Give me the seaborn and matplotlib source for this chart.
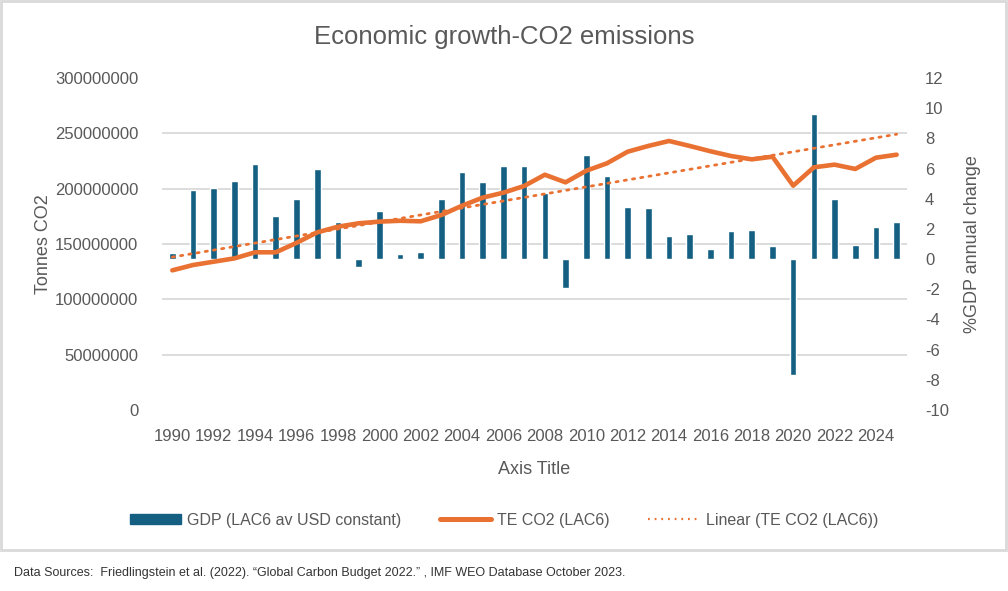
import numpy as np
import pandas as pd
import matplotlib
matplotlib.use("Agg")
import matplotlib.pyplot as plt
from matplotlib.patches import Rectangle
from matplotlib.lines import Line2D
import seaborn as sns

years = list(range(1990, 2026))
gdp_growth = [0.4, 4.6, 4.7, 5.2, 6.3, 2.85, 4.0, 5.95, 2.45, -0.5,
              3.2, 0.35, 0.45, 4.0, 5.8, 5.1, 6.15, 6.2, 4.35, -1.9,
              6.9, 5.5, 3.45, 3.4, 1.5, 1.65, 0.65, 1.85, 1.9, 0.85,
              -7.65, 9.6, 4.0, 0.95, 2.1, 2.45]
co2_tonnes = [126.2, 131.0, 134.0, 137.0, 142.5, 142.5, 151.0, 160.5, 165.6, 168.7,
              170.2, 171.0, 170.5, 176.2, 184.6, 191.9, 196.4, 202.4, 212.6, 205.7,
              216.2, 222.9, 233.4, 238.6, 243.1, 238.6, 233.8, 229.5, 226.5, 228.9,
              202.7, 219.3, 221.7, 217.8, 228.0, 230.7]
co2_tonnes = [v * 1e6 for v in co2_tonnes]

title = "Economic growth-CO2 emissions"
source_note = ("Data Sources:  Friedlingstein et al. (2022). \u201cGlobal Carbon Budget 2022.\u201d , "
               "IMF WEO Database October 2023.")

blue = "#156082"
orange = "#E97132"
grey_text = "#595959"
grid_col = "#D9D9D9"

sns.set_theme(style="white")
plt.rcParams['font.family'] = ['Liberation Sans', 'DejaVu Sans']
plt.rcParams['axes.unicode_minus'] = False

df = pd.DataFrame({"year": [str(y) for y in years], "pos": np.arange(len(years)),
                   "gdp": gdp_growth, "co2": co2_tonnes})
slope, intercept = np.polyfit(df["pos"], df["co2"], 1)
df["trend"] = intercept + slope * df["pos"]

fig = plt.figure(figsize=(10.08, 5.91), dpi=100)
ax_bar = fig.add_axes([0.1607, 0.3063, 0.7391, 0.5617])
ax_line = ax_bar.twinx()

# bars (right axis)
sns.barplot(data=df, x="year", y="gdp", color=blue, width=0.32, saturation=1,
            ax=ax_bar, zorder=3)
ax_bar.set_ylim(-10, 12)
ax_bar.set_yticks(np.arange(-10, 13, 2))
ax_bar.set_yticks(np.linspace(-10, 12, 7), minor=True)
ax_bar.yaxis.tick_right()
ax_bar.yaxis.set_label_position("right")
ax_bar.grid(which="minor", axis="y", color=grid_col, lw=1.3, zorder=0)
ax_bar.grid(which="major", axis="y", visible=False)
ax_bar.tick_params(axis="y", which="both", length=0, labelsize=12, labelcolor=grey_text, pad=13)
ax_bar.set_ylabel("%GDP annual change", fontsize=13, color=grey_text, labelpad=11)
ax_bar.set_xlabel("Axis Title", fontsize=13, color=grey_text, labelpad=12)
ax_bar.set_xticks(np.arange(0, len(years), 2))
ax_bar.set_xticklabels([str(y) for y in years[::2]])
ax_bar.tick_params(axis="x", length=0, labelsize=12, labelcolor=grey_text, pad=14)
ax_bar.set_xlim(-0.5, len(years) - 0.5)
ax_bar.set_axisbelow(True)

# CO2 line + linear trend (left axis)
sns.lineplot(data=df, x="pos", y="co2", color=orange, lw=3.3, ax=ax_line,
             solid_capstyle="round", solid_joinstyle="round")
sns.lineplot(data=df, x="pos", y="trend", color=orange, lw=2.0, ax=ax_line,
             linestyle=(0, (0.8, 2.2)), dash_capstyle="round")
ax_line.set_ylim(0, 300000000)
ax_line.set_yticks(np.arange(0, 300000001, 50000000))
ax_line.set_yticklabels([str(v) for v in range(0, 300000001, 50000000)])
ax_line.yaxis.tick_left()
ax_line.yaxis.set_label_position("left")
ax_line.tick_params(axis="y", length=0, labelsize=12, labelcolor=grey_text, pad=17)
ax_line.set_ylabel("Tonnes CO2", fontsize=13, color=grey_text, labelpad=2)
ax_line.set_xlabel("")
ax_line.grid(False)
ax_line.set_xlim(-0.5, len(years) - 0.5)

for a in (ax_bar, ax_line):
    for s in a.spines.values():
        s.set_visible(False)

fig.text(0.5, 0.938, title, ha="center", va="center", fontsize=18.5, color=grey_text)

handles = [Rectangle((0, 0), 1, 1, color=blue),
           Line2D([], [], color=orange, lw=3.6),
           Line2D([], [], color=orange, lw=1.6, linestyle=(0, (0.8, 2.2)))]
labels = ["GDP (LAC6 av USD constant)", "TE CO2 (LAC6)", "Linear (TE CO2 (LAC6))"]
fig.legend(handles, labels, loc="center", bbox_to_anchor=(0.5, 1 - 520 / 591), ncol=3,
           frameon=False, handlelength=3.2, handleheight=0.65,
           columnspacing=2.4, handletextpad=0.4, labelcolor=grey_text,
           prop={"size": 11.5})

# chart border
fig.patches.append(Rectangle((1 / 1008, 1 - 550 / 591), 1005 / 1008, 549 / 591,
                             transform=fig.transFigure, fill=False,
                             edgecolor=grid_col, lw=2))
fig.text(14 / 1008, 1 - 573 / 591, source_note, ha="left", va="center",
         fontsize=9, color="#333333")

fig.savefig("out.png", dpi=100)
